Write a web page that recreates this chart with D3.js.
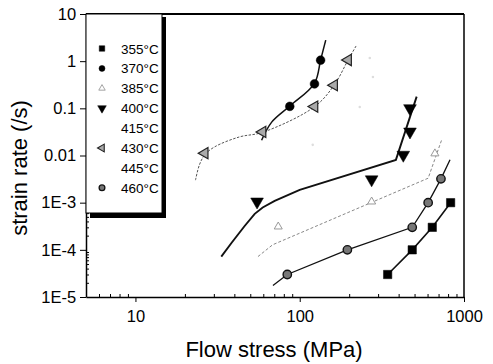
<!DOCTYPE html>
<html><head><meta charset="utf-8">
<script src="https://cdn.jsdelivr.net/npm/d3@7"></script>
<style>
html,body{margin:0;padding:0;background:#fff;}
svg{display:block;font-family:"Liberation Sans",Arial,sans-serif;}
</style></head>
<body><svg id="c" width="493" height="364"></svg>
<script>
// ---------- data (flow stress MPa, strain rate /s) ----------
const legendLabels = ["355°C","370°C","385°C","400°C","415°C","430°C","445°C","460°C"];
const xTickValues = [10,100,1000];
const xTickLabels = ["10","100","1000"];
const yTickValues = [10,1,0.1,0.01,1e-3,1e-4,1e-5];
const yTickLabels = ["10","1","0.1","0.01","1E-3","1E-4","1E-5"];

const pts355 = [[343,3e-5],[484,1e-4],[641,3e-4],[829,1e-3]];
const pts370 = [[134,1.05],[123,0.33],[87,0.11]];
const fit370 = [[58.6,0.021],[67.5,0.051],[87,0.112],[123,0.34],[134,1.06],[144,2.8]];
const pts385 = [[74,3.1e-4],[274,1.05e-3],[665,0.011]];
const fit385 = [[55.7,7.2e-5],[68.4,1.28e-4],[605,3.3e-3],[731,0.0214]];
const pts400 = [[55,1.05e-3],[274,3.1e-3],[427,0.0103],[469,0.032],[469,0.1]];
const fit400 = [[33.3,7.2e-5],[38.5,1.41e-4],[46.2,3.2e-4],[53.2,5.8e-4],[59.5,7.9e-4],[70.4,1.09e-3],[100,1.87e-3],[385,8.07e-3],[515,0.177]];
const pts415 = [[267,1.17],[279,0.46],[232,0.107],[120,0.0168]];
const pts430 = [[26.4,0.0112],[59.4,0.0316],[123,0.109],[162,0.31],[197,1.06]];
const fit430 = [[23.2,3.0e-3],[24.5,6.3e-3],[26.4,0.0103],[30.3,0.0152],[43,0.0248],[59.4,0.031],[123,0.108],[162,0.31],[197,1.06],[222,2.2]];
const pts445 = [];
const pts460 = [[84,3e-5],[195,1e-4],[484,3e-4],[605,1e-3],[724,3.2e-3]];
const fit460 = [[68.7,1.75e-5],[84,3e-5],[195,1e-4],[484,3e-4],[605,1e-3],[724,3.2e-3],[822,8.1e-3]];

// ---------- layout ----------
const svg = d3.select("#c");
const L = 86, R = 464, T = 14, B = 297;
const x = d3.scaleLog().domain([5,1000]).range([L,R]);
const y = d3.scaleLog().domain([1e-5,10]).range([B,T]);

// minor ticks
const xMinor = [], yMinor = [];
[1,10,100].forEach(d => { for (let k=2;k<=9;k++){ const v=d*k; if (v>=5 && v<=1000) xMinor.push(v);} });
[1e-5,1e-4,1e-3,1e-2,1e-1,1].forEach(d => { for (let k=2;k<=9;k++) yMinor.push(d*k); });

// axes
const gx = svg.append("g").attr("transform",`translate(0,${B})`)
  .call(d3.axisBottom(x).tickValues(xTickValues).tickFormat((d,i)=>xTickLabels[i]).tickSize(5).tickSizeOuter(0));
gx.select(".domain").attr("stroke","#000").attr("stroke-width",1.5);
gx.selectAll("text").attr("font-size",16.5).attr("fill","#000").attr("dy","1.0em");
gx.selectAll(".tick line").attr("stroke","#000");
svg.append("g").attr("transform",`translate(0,${B})`)
  .call(d3.axisTop(x).tickValues(xMinor).tickFormat("").tickSize(3).tickSizeOuter(0))
  .call(g=>g.select(".domain").remove());

const gy = svg.append("g").attr("transform",`translate(${L},0)`)
  .call(d3.axisLeft(y).tickValues(yTickValues).tickFormat((d,i)=>yTickLabels[i]).tickSize(6).tickSizeOuter(0));
gy.select(".domain").attr("stroke","#000").attr("stroke-width",1.5);
gy.selectAll("text").attr("font-size",16.5).attr("fill","#000").attr("dx","-0.05em");
gy.selectAll(".tick line").attr("stroke","#000");
svg.append("g").attr("transform",`translate(${L},0)`)
  .call(d3.axisRight(y).tickValues(yMinor).tickFormat("").tickSize(3).tickSizeOuter(0))
  .call(g=>g.select(".domain").remove());

// frame top/right
svg.append("line").attr("x1",L).attr("x2",R).attr("y1",T).attr("y2",T).attr("stroke","#000").attr("stroke-width",2);
svg.append("line").attr("x1",R).attr("x2",R).attr("y1",T).attr("y2",B).attr("stroke","#000").attr("stroke-width",1.5);

// titles
svg.append("text").attr("x",274).attr("y",357).attr("text-anchor","middle")
  .attr("font-size",22).text("Flow stress (MPa)");
svg.append("text").attr("transform","translate(27,168) rotate(-90)").attr("text-anchor","middle")
  .attr("font-size",22).text("strain rate (/s)");

// lines
const line = d3.line().x(d=>x(d[0])).y(d=>y(d[1]));
const lineS = d3.line().x(d=>x(d[0])).y(d=>y(d[1])).curve(d3.curveCatmullRom.alpha(0.5));
const plot = svg.append("g");
plot.append("path").attr("d",line(pts355)).attr("fill","none").attr("stroke","#111").attr("stroke-width",1.6);
plot.append("path").attr("d",lineS(fit370)).attr("fill","none").attr("stroke","#111").attr("stroke-width",1.5);
plot.append("path").attr("d",line(fit385)).attr("fill","none").attr("stroke","#888").attr("stroke-width",1).attr("stroke-dasharray","3,2");
plot.append("path").attr("d",line(fit400)).attr("fill","none").attr("stroke","#111").attr("stroke-width",1.9);
plot.append("path").attr("d",lineS(fit430)).attr("fill","none").attr("stroke","#555").attr("stroke-width",1).attr("stroke-dasharray","2.5,1.5");
plot.append("path").attr("d",line(fit460)).attr("fill","none").attr("stroke","#111").attr("stroke-width",1.3);

// markers
const sym = (type,size) => d3.symbol().type(type).size(size)();
function marks(data, type, size, rot, fill, stroke, sw){
  plot.selectAll(null).data(data).enter().append("path")
    .attr("d", sym(type,size))
    .attr("transform", d=>`translate(${x(d[0])},${y(d[1])}) rotate(${rot})`)
    .attr("fill",fill).attr("stroke",stroke).attr("stroke-width",sw);
}
marks(pts355, d3.symbolSquare, 70, 0, "#000", "#000", 0.5);
marks(pts370, d3.symbolCircle, 60, 0, "#000", "#000", 0.5);
marks(pts385, d3.symbolTriangle, 28, 0, "#fff", "#999", 1);
marks(pts400, d3.symbolTriangle, 70, 180, "#000", "#000", 0.5);
marks(pts415, d3.symbolCircle, 5, 0, "#ddd", "none", 0);
marks(pts430, d3.symbolTriangle, 55, -90, "#aaa", "#222", 1.2);
marks(pts445, d3.symbolCircle, 5, 0, "#ddd", "none", 0);
marks(pts460, d3.symbolCircle, 55, 0, "#777", "#111", 1.4);

// legend
const lg = svg.append("g");
lg.append("rect").attr("x",90).attr("y",17).attr("width",76).attr("height",201).attr("fill","#000");
lg.append("rect").attr("x",L).attr("y",T).attr("width",76).attr("height",199).attr("fill","#fff").attr("stroke","#000").attr("stroke-width",1);
const legStyles = [
  {t:d3.symbolSquare,s:30,r:0,f:"#000",st:"#000",w:0.5},
  {t:d3.symbolCircle,s:28,r:0,f:"#000",st:"#000",w:0.5},
  {t:d3.symbolTriangle,s:18,r:0,f:"#fff",st:"#999",w:0.9},
  {t:d3.symbolTriangle,s:32,r:180,f:"#000",st:"#000",w:0.5},
  null,
  {t:d3.symbolTriangle,s:26,r:-90,f:"#aaa",st:"#222",w:1.1},
  null,
  {t:d3.symbolCircle,s:26,r:0,f:"#777",st:"#111",w:1.3}
];
legendLabels.forEach((lab,i)=>{
  const cy = 48.5 + i*19.9;
  const st = legStyles[i];
  if (st) lg.append("path").attr("d",sym(st.t,st.s)).attr("transform",`translate(102,${cy}) rotate(${st.r})`)
    .attr("fill",st.f).attr("stroke",st.st).attr("stroke-width",st.w);
  lg.append("text").attr("x",121).attr("y",cy+5).attr("font-size",13.5).text(lab);
});
</script>
</body></html>
